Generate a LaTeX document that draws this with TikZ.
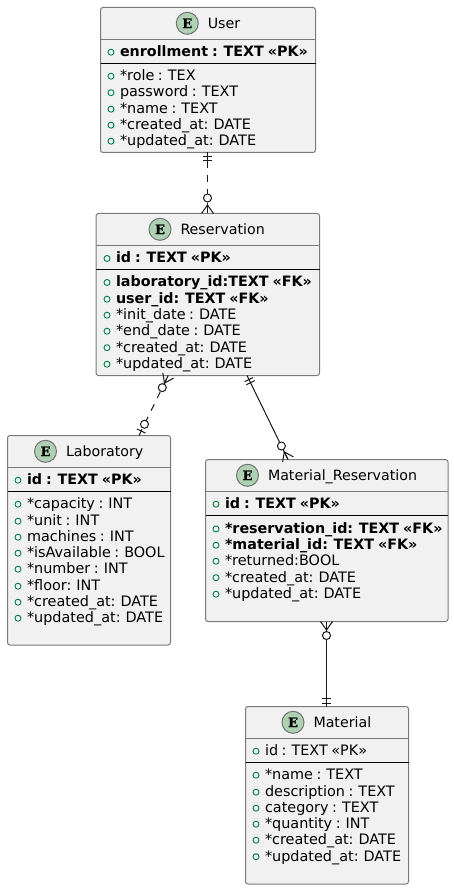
\documentclass[tikz,border=0pt]{standalone}
\usepackage{fontspec}
\setmainfont{DejaVu Sans}
\newfontfamily\spotfont{DejaVu Serif Bold}[FakeBold=1.2]
\usetikzlibrary{calc}
\definecolor{boxfill}{HTML}{F1F1F1}
\definecolor{boxline}{HTML}{7A7A7A}
\definecolor{spotfill}{HTML}{ADD1B2}
\definecolor{iconline}{HTML}{038048}
\definecolor{conn}{HTML}{181818}
\newcommand{\rowfont}{\fontsize{14.4}{16}\selectfont\spaceskip=3.5pt\relax}
\newcommand{\boldrowfont}{\fontsize{14.3}{16}\selectfont\bfseries\spaceskip=4pt\relax}
\tikzset{
  entitybox/.style={draw=boxline,fill=boxfill,line width=1pt,rounded corners=2.5pt,inner sep=0pt,outer sep=0pt,anchor=north west},
  rowtext/.style={anchor=base west,inner sep=0pt,outer sep=0pt,yshift=-0.5pt,font=\rowfont,text=black},
  titletext/.style={anchor=base west,inner sep=0pt,outer sep=0pt,yshift=-0.5pt,font=\fontsize{14.2}{16}\selectfont,text=black},
  spot/.style={circle,draw=black!55,fill=spotfill,line width=1pt,minimum size=22pt,inner sep=0pt,outer sep=0pt,font=\spotfont\fontsize{13}{13}\selectfont},
  icon/.style={draw=iconline,line width=.9pt},
  titlediv/.style={draw=boxline,line width=1pt},
  rowdiv/.style={draw=black,line width=1pt},
  conline/.style={draw=conn,line width=1pt},
  condash/.style={conline,dash pattern=on 7pt off 7pt},
}
\newcount\rowno
% \entity{name}{x1}{y1}{x2}{y2}{titlediv y}{rowdiv y}{title}{spot x}
\newcommand{\entity}[9]{%
  \node[entitybox,minimum width=#4pt-#2pt,minimum height=#5pt-#3pt] (#1) at (#2,#3) {};
  \draw[titlediv] (#2,#6) -- (#4,#6);
  \draw[rowdiv] (#2,#7) -- (#4,#7);
  \node[spot] (#1spot) at (#9,#3+15.8) {E};
  \node[titletext] (#1title) at (#9+20.5,#3+20.5) {#8};
}
\newcommand{\rw}[3]{%
  \global\advance\rowno by 1
  \draw[icon] (#1-9,#2-3.8) circle (3pt);
  \node[rowtext] (row\the\rowno) at (#1,#2) {#3};
}
\newcommand{\brw}[3]{\rw{#1}{#2}{\boldrowfont #3}}
% end markers: #1 end at the box, #2 far end, #3 circle distance
\newcommand{\crowfoot}[3]{%
  \draw[conline] ($(#1)!6pt!90:(#2)$) -- ($(#1)!8.5pt!(#2)$) -- ($(#1)!6pt!-90:(#2)$);
  \draw[conline] (#1) -- ($(#1)!8.5pt!(#2)$);
  \draw[conline,fill=white] ($(#1)!#3pt!(#2)$) circle (4pt);
}
\newcommand{\onebar}[3]{%
  \draw[conline] ($(#1)!#3pt!(#2)!4.7pt!90:(#2)$) -- ($(#1)!#3pt!(#2)!4.7pt!-90:(#2)$);
}
\newcommand{\barcircle}[2]{%
  \onebar{#1}{#2}{5}
  \draw[conline,fill=white] ($(#1)!12.5pt!(#2)$) circle (4pt);
}
\begin{document}
\begin{tikzpicture}[x=1pt,y=-1pt]
\useasboundingbox (0,0) rectangle (454,890);
\fill[white] (0,0) rectangle (454,890);

% entities
\entity{user}{100.5}{7.5}{315.5}{152.5}{39.5}{63.2}{User}{187.3}
\brw{120}{56}{enrollment : TEXT «PK»}
\rw{120}{80}{*role : TEX}
\rw{120}{96.5}{password : TEXT}
\rw{120}{113}{*name : TEXT}
\rw{120}{129}{*created\_at: DATE}
\rw{120}{145}{*updated\_at: DATE}

\entity{res}{96}{213.5}{319.5}{375.5}{245.5}{269.5}{Reservation}{160}
\brw{116}{262.3}{id : TEXT «PK»}
\brw{116}{286.3}{laboratory\_id:TEXT «FK»}
\brw{116}{303}{user\_id: TEXT «FK»}
\rw{116}{319}{*init\_date : DATE}
\rw{116}{335}{*end\_date : DATE}
\rw{116}{351.5}{*created\_at: DATE}
\rw{116}{368}{*updated\_at: DATE}

\entity{lab}{7.5}{435.5}{170.5}{645}{467.5}{491}{Laboratory}{45.5}
\brw{27}{484}{id : TEXT «PK»}
\rw{27}{508}{*capacity : INT}
\rw{27}{525}{*unit : INT}
\rw{27}{541}{machines : INT}
\rw{27}{557}{*isAvailable : BOOL}
\rw{27}{573}{*number : INT}
\rw{27}{590}{*floor: INT}
\rw{27}{606}{*created\_at: DATE}
\rw{27}{622}{*updated\_at: DATE}

\entity{mres}{205.5}{459.5}{448}{621.5}{491.5}{515.5}{Material\_Reservation}{247.5}
\brw{225}{508}{id : TEXT «PK»}
\brw{225}{532.7}{*reservation\_id: TEXT «FK»}
\brw{225}{549}{*material\_id: TEXT «FK»}
\rw{225}{565}{*returned:BOOL}
\rw{225}{581.5}{*created\_at: DATE}
\rw{225}{598}{*updated\_at: DATE}

\entity{mat}{245.5}{706.5}{408.5}{884}{738.3}{762}{Material}{293}
\rw{265}{755}{id : TEXT «PK»}
\rw{265}{779}{*name : TEXT}
\rw{265}{796}{description : TEXT}
\rw{265}{812}{category : TEXT}
\rw{265}{828}{*quantity : INT}
\rw{265}{844}{*created\_at: DATE}
\rw{265}{860.5}{*updated\_at: DATE}

% connector ends anchored on the boxes
\coordinate (ua) at ($(user.south west)+(107,0)$);
\coordinate (ub) at ($(res.north west)+(111.5,0)$);
\coordinate (la) at ($(res.south west)+(72.2,0)$);
\coordinate (lb) at ($(lab.north west)+(131.5,0)$);
\coordinate (ma) at ($(res.south west)+(151,0)$);
\coordinate (mb) at ($(mres.north west)+(82.5,0)$);
\coordinate (ta) at ($(mres.south west)+(121,0)$);
\coordinate (tb) at ($(mat.north west)+(81,0)$);

% User -- Reservation
\draw[condash,dash phase=5.5pt] (ua) -- (ub);
\draw[conline] (ua) -- ($(ua)!15.5pt!(ub)$);
\onebar{ua}{ub}{4.5}\onebar{ua}{ub}{8}
\crowfoot{ub}{ua}{15.5}
% Reservation -- Laboratory
\draw[condash,dash phase=10pt] (la) -- (lb);
\crowfoot{la}{lb}{13.5}
\barcircle{lb}{la}
% Reservation -- Material_Reservation
\draw[conline] (ma) -- (mb);
\onebar{ma}{mb}{4.5}\onebar{ma}{mb}{8}
\crowfoot{mb}{ma}{15}
% Material_Reservation -- Material
\draw[conline] (ta) -- (tb);
\crowfoot{ta}{tb}{14}
\onebar{tb}{ta}{3.4}\onebar{tb}{ta}{8.4}
\end{tikzpicture}
\end{document}
